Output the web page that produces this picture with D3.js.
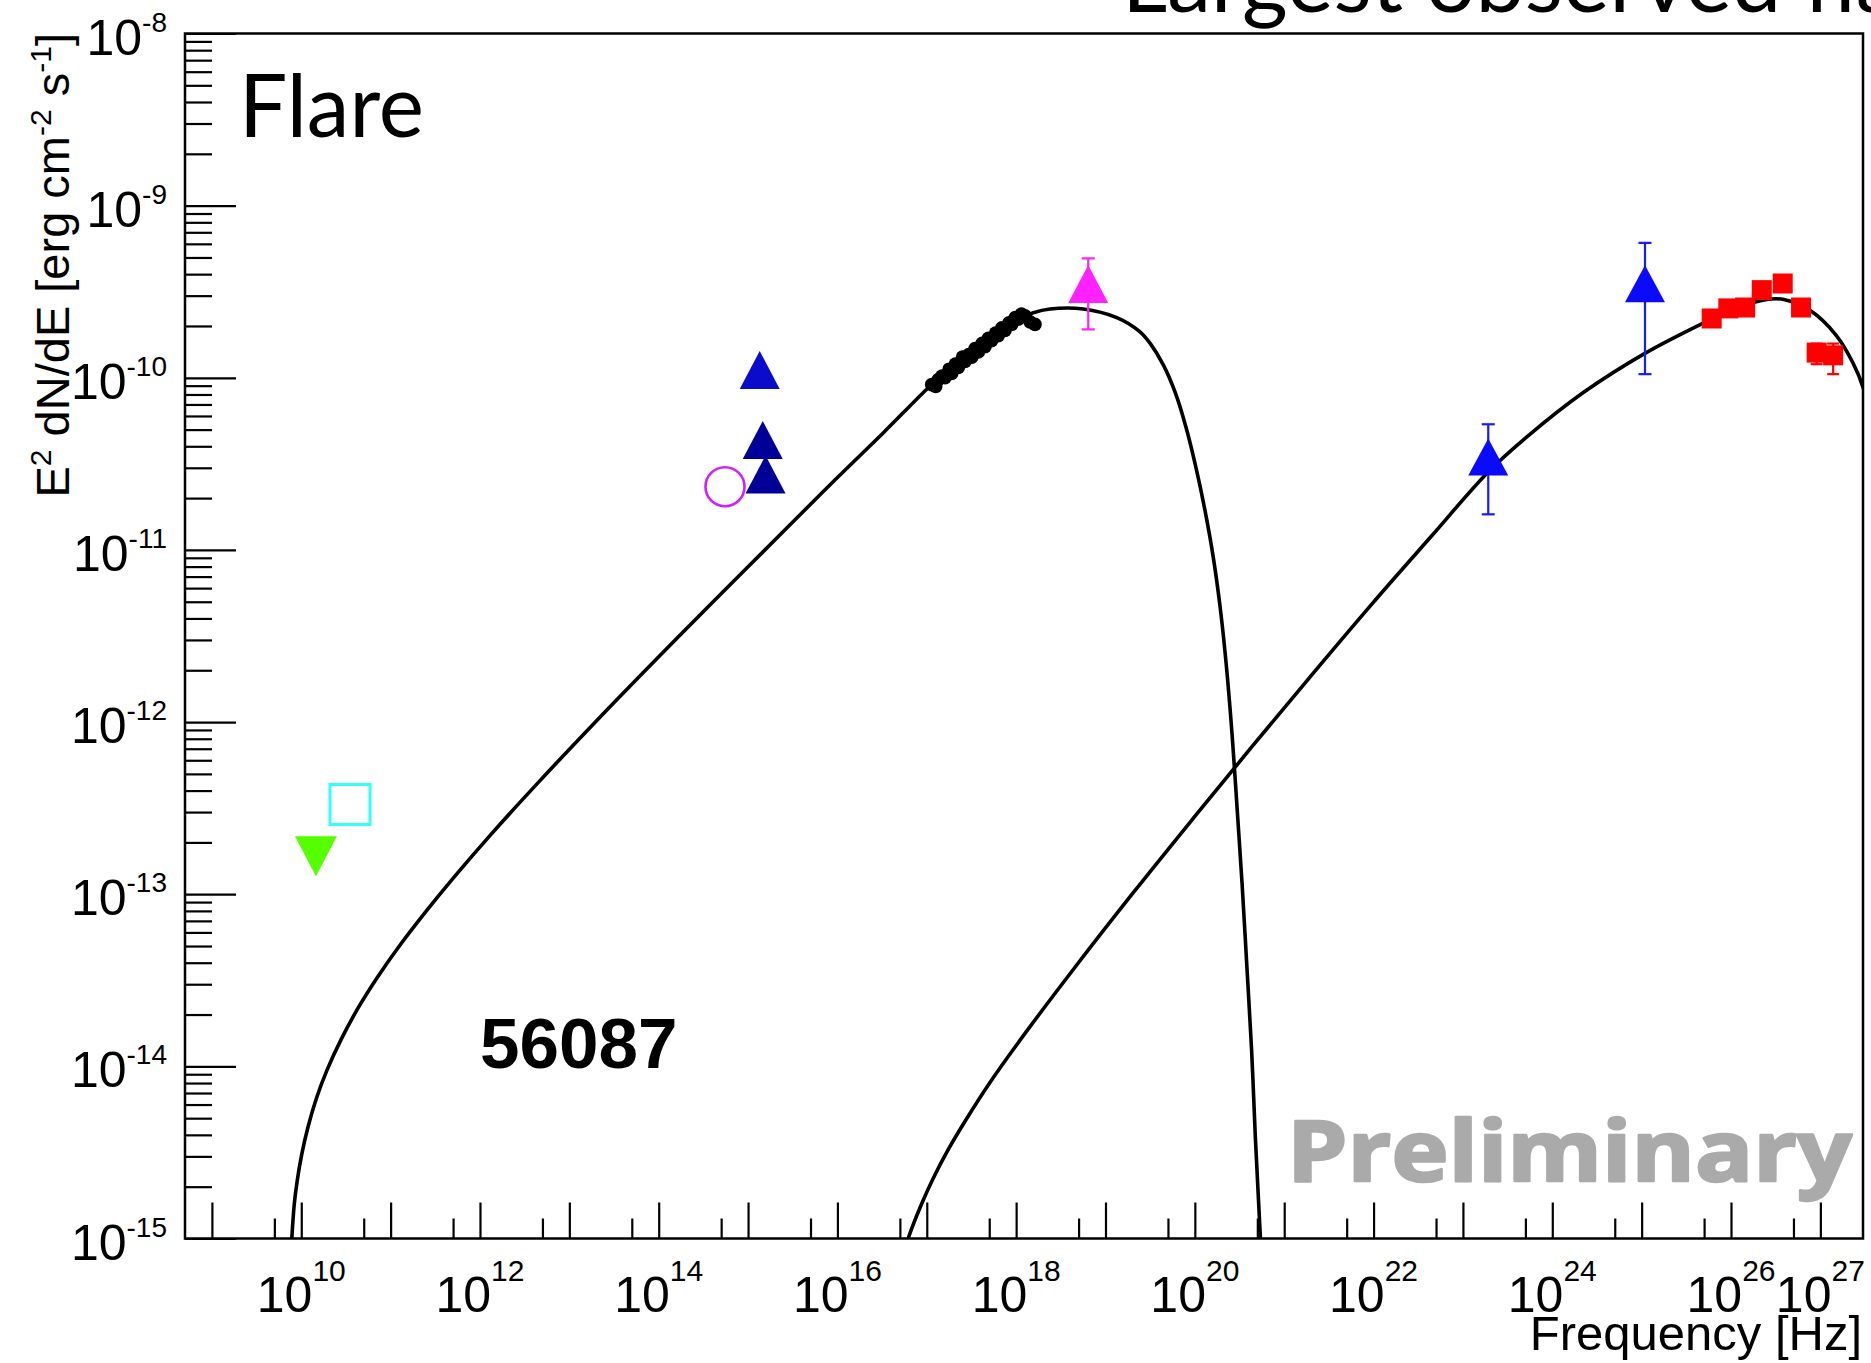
<!DOCTYPE html>
<html><head><meta charset="utf-8">
<script src="https://cdn.jsdelivr.net/npm/d3@7"></script>
<style>html,body{margin:0;padding:0;background:#fff;} svg{display:block}</style>
</head><body>
<svg id="c" width="1871" height="1363"></svg>
<script>
// ---------------- data ----------------
const xTickExp = [10, 12, 14, 16, 18, 20, 22, 24, 26, 27];
const yTickExp = [-8, -9, -10, -11, -12, -13, -14, -15];

// synchrotron model curve (log10 nu, log10 nuFnu)
const synchLogNu = [9.881, 9.921, 9.954, 10.007, 10.074, 10.168, 10.288, 10.448, 10.635, 10.849, 11.102, 11.396, 11.703, 12.104, 12.638, 13.305, 13.973, 14.640, 15.428, 15.975, 16.509, 17.003, 17.257, 17.631, 18.005, 18.192, 18.379, 18.752, 19.126, 19.380, 19.500, 19.647, 19.780, 19.901, 20.007, 20.114, 20.208, 20.288, 20.355, 20.421, 20.475, 20.528, 20.582, 20.635, 20.675, 20.715, 20.742];
const synchLogF  = [-15.117, -14.805, -14.667, -14.507, -14.355, -14.188, -14.022, -13.842, -13.662, -13.485, -13.298, -13.100, -12.905, -12.664, -12.359, -11.992, -11.635, -11.285, -10.876, -10.592, -10.322, -10.065, -9.945, -9.785, -9.665, -9.622, -9.600, -9.600, -9.650, -9.730, -9.800, -9.925, -10.085, -10.287, -10.509, -10.772, -11.049, -11.354, -11.687, -12.103, -12.518, -12.934, -13.419, -13.904, -14.389, -14.805, -15.082];

// inverse Compton model curve
const sscLogNu = [16.736, 16.776, 16.830, 16.937, 17.070, 17.244, 17.444, 17.711, 18.112, 18.646, 19.313, 19.981, 20.648, 21.316, 21.983, 22.651, 23.278, 23.719, 24.347, 25.041, 25.655, 26.029, 26.403, 26.590, 26.883, 27.177, 27.364, 27.484, 27.618];
const sscLogF  = [-15.117, -15.027, -14.944, -14.805, -14.653, -14.480, -14.306, -14.091, -13.800, -13.433, -12.990, -12.560, -12.137, -11.721, -11.313, -10.918, -10.550, -10.342, -10.086, -9.857, -9.691, -9.601, -9.545, -9.545, -9.608, -9.753, -9.913, -10.065, -10.370];

// X-ray points (black dots)
const xrayLogNu = [17.055, 17.100, 17.129, 17.170, 17.204, 17.250, 17.279, 17.320, 17.353, 17.400, 17.428, 17.470, 17.503, 17.540, 17.577, 17.620, 17.652, 17.690, 17.726, 17.770, 17.800, 17.840, 17.875, 17.920, 17.950, 17.990, 18.024, 18.060, 18.100, 18.155, 18.211];
const xrayLogF  = [-10.040, -10.050, -10.010, -9.990, -10.000, -9.950, -9.975, -9.920, -9.940, -9.880, -9.905, -9.865, -9.880, -9.830, -9.850, -9.800, -9.820, -9.770, -9.785, -9.740, -9.755, -9.710, -9.725, -9.680, -9.690, -9.650, -9.660, -9.630, -9.640, -9.675, -9.690];

const radioNu = [1.46e10], radioF = [1.66e-13];          // green, upper limit
const mmNu = [3.51e10], mmF = [3.32e-13];                // cyan open square
const irNu = [5.52e14], irF = [2.33e-11];                // magenta open circle
const uvNu = [1.35e15], uvF = [1.11e-10];                // blue triangle
const optNu = [1.46e15, 1.57e15], optF = [4.35e-11, 2.74e-11]; // navy triangles
const hxNu = [6.41e18], hxF = [3.51e-10], hxHi = [4.94e-10], hxLo = [1.91e-10]; // magenta triangle
const gamNu = [1.92e23, 1.09e25], gamF = [3.47e-11, 3.52e-10], gamHi = [5.37e-11, 6.08e-10], gamLo = [1.61e-11, 1.05e-10];
const vheNu = [6.08e25, 9.33e25, 1.44e26, 2.21e26, 3.79e26, 6.08e26, 9.10e26, 1.39e27];
const vheF  = [2.21e-10, 2.53e-10, 2.56e-10, 3.23e-10, 3.53e-10, 2.56e-10, 1.40e-10, 1.35e-10];
const vheHi = [2.38e-10, 2.72e-10, 2.75e-10, 3.45e-10, 3.78e-10, 2.76e-10, 1.58e-10, 1.58e-10];
const vheLo = [2.04e-10, 2.34e-10, 2.37e-10, 3.01e-10, 3.28e-10, 2.36e-10, 1.20e-10, 1.05e-10];

// ---------------- drawing ----------------
const svg = d3.select('#c');
const L = 185, R = 1863, T = 33.5, B = 1238.5;
const x = d3.scaleLog().domain([5e8, 3e27]).range([L, R]);
const y = d3.scaleLog().domain([1e-15, 1e-8]).range([B, T]);
const axisFont = "'Liberation Sans', Arial, Helvetica, sans-serif";

svg.append('rect').attr('width', 1871).attr('height', 1363).attr('fill', '#fff');

// title (mostly cut off at top)
svg.append('text').attr('x', 1122).attr('y', 12).attr('font-family', "Lato, 'Open Sans', sans-serif")
  .attr('font-size', 88).attr('fill', '#000').text('Largest observed flare');

svg.append('defs').append('clipPath').attr('id', 'frame')
  .append('rect').attr('x', L).attr('y', T).attr('width', R - L).attr('height', B - T);

// ticks
const xMajor = d3.range(9, 28).map(e => 10 ** e);
const xMinor = d3.range(9, 27).map(e => 5 * 10 ** e);
const yMajor = d3.range(-15, -7).map(e => 10 ** e);
const yMinor = [];
d3.range(-15, -8).forEach(e => { for (let m = 2; m <= 9; m++) yMinor.push(m * 10 ** e); });

function styleAxis(g) {
  g.select('.domain').remove();
  g.selectAll('line').attr('stroke', '#000').attr('stroke-width', 2.2);
}
svg.append('g').attr('transform', `translate(0,${B})`)
  .call(d3.axisBottom(x).tickValues(xMajor).tickSize(-36).tickFormat('')).call(styleAxis);
svg.append('g').attr('transform', `translate(0,${B})`)
  .call(d3.axisBottom(x).tickValues(xMinor).tickSize(-20).tickFormat('')).call(styleAxis);
svg.append('g').attr('transform', `translate(${L},0)`)
  .call(d3.axisLeft(y).tickValues(yMajor).tickSize(-51).tickFormat('')).call(styleAxis);
svg.append('g').attr('transform', `translate(${L},0)`)
  .call(d3.axisLeft(y).tickValues(yMinor).tickSize(-27).tickFormat('')).call(styleAxis);

// tick labels
const xl = svg.append('g').attr('font-family', axisFont).attr('fill', '#000');
xTickExp.forEach(e => {
  const t = xl.append('text').attr('x', x(10 ** e)).attr('y', 1312).attr('text-anchor', 'middle').attr('font-size', 50);
  t.append('tspan').text('10');
  t.append('tspan').attr('dy', -31).attr('font-size', 30).text(e);
});
const yl = svg.append('g').attr('font-family', axisFont).attr('fill', '#000');
yTickExp.forEach(e => {
  const t = yl.append('text').attr('x', 167).attr('y', y(10 ** e) + 21).attr('text-anchor', 'end').attr('font-size', 50);
  t.append('tspan').text('10');
  t.append('tspan').attr('dy', -23).attr('font-size', 28).text('-' + Math.abs(e));
});

// axis titles
svg.append('text').attr('x', 1862).attr('y', 1350).attr('text-anchor', 'end')
  .attr('font-family', axisFont).attr('font-size', 49).text('Frequency [Hz]');
const yt = svg.append('text').attr('transform', 'translate(69,33) rotate(-90)').attr('text-anchor', 'end')
  .attr('font-family', axisFont).attr('font-size', 47);
yt.append('tspan').text('E');
yt.append('tspan').attr('dy', -18).attr('font-size', 30).text('2');
yt.append('tspan').attr('dy', 18).text(' dN/dE [erg cm');
yt.append('tspan').attr('dy', -18).attr('font-size', 30).text('-2');
yt.append('tspan').attr('dy', 18).text(' s');
yt.append('tspan').attr('dy', -18).attr('font-size', 30).text('-1');
yt.append('tspan').attr('dy', 18).text(']');

// model curves
const plot = svg.append('g').attr('clip-path', 'url(#frame)');
const line = d3.line().x(d => x(10 ** d[0])).y(d => y(10 ** d[1])).curve(d3.curveCatmullRom.alpha(0.5));
plot.append('path').attr('d', line(d3.zip(synchLogNu, synchLogF)))
  .attr('fill', 'none').attr('stroke', '#000').attr('stroke-width', 3.6).attr('stroke-linejoin', 'round');
plot.append('path').attr('d', line(d3.zip(sscLogNu, sscLogF)))
  .attr('fill', 'none').attr('stroke', '#000').attr('stroke-width', 3.6).attr('stroke-linejoin', 'round');

// helpers
function tri(cx, cy, w, h, up) {
  const hw = w / 2, hh = h / 2;
  return up ? `M${cx - hw},${cy + hh}L${cx + hw},${cy + hh}L${cx},${cy - hh}Z`
            : `M${cx - hw},${cy - hh}L${cx + hw},${cy - hh}L${cx},${cy + hh}Z`;
}
function errBars(nu, hi, lo, color, cap) {
  nu.forEach((n, i) => {
    const cx = x(n), y1 = y(hi[i]), y2 = y(lo[i]);
    plot.append('line').attr('x1', cx).attr('x2', cx).attr('y1', y1).attr('y2', y2)
      .attr('stroke', color).attr('stroke-width', 2.2);
    [y1, y2].forEach(yy => plot.append('line').attr('x1', cx - cap).attr('x2', cx + cap)
      .attr('y1', yy).attr('y2', yy).attr('stroke', color).attr('stroke-width', 2.2));
  });
}

// X-ray dots
plot.selectAll('circle.xr').data(d3.zip(xrayLogNu, xrayLogF)).join('circle')
  .attr('cx', d => x(10 ** d[0])).attr('cy', d => y(10 ** d[1])).attr('r', 6.8).attr('fill', '#000');

// radio upper limit (green, down triangle)
radioNu.forEach((n, i) => plot.append('path').attr('d', tri(x(n), y(radioF[i]), 42, 40, false)).attr('fill', '#55ff00'));
// mm (cyan open square)
mmNu.forEach((n, i) => plot.append('rect').attr('x', x(n) - 20).attr('y', y(mmF[i]) - 20)
  .attr('width', 40).attr('height', 40).attr('fill', 'none').attr('stroke', '#33ffff').attr('stroke-width', 3));
// IR open circle
irNu.forEach((n, i) => plot.append('circle').attr('cx', x(n)).attr('cy', y(irF[i])).attr('r', 19.5)
  .attr('fill', 'none').attr('stroke', '#cc22ff').attr('stroke-width', 2.6));
// optical / UV
optNu.forEach((n, i) => plot.append('path').attr('d', tri(x(n), y(optF[i]), 40, 38, true)).attr('fill', '#000099'));
uvNu.forEach((n, i) => plot.append('path').attr('d', tri(x(n), y(uvF[i]), 40, 38, true)).attr('fill', '#0b0bcc'));
// hard X-ray magenta
errBars(hxNu, hxHi, hxLo, '#ff22ff', 6.5);
hxNu.forEach((n, i) => plot.append('path').attr('d', tri(x(n), y(hxF[i]), 40, 38, true)).attr('fill', '#ff22ff'));
// gamma-ray blue
errBars(gamNu, gamHi, gamLo, '#1a1aff', 6.5);
gamNu.forEach((n, i) => plot.append('path').attr('d', tri(x(n), y(gamF[i]), 40, 37, true)).attr('fill', '#0a0aff'));
// VHE red squares
errBars(vheNu, vheHi, vheLo, '#ff0000', 6);
vheNu.forEach((n, i) => plot.append('rect').attr('x', x(n) - 10).attr('y', y(vheF[i]) - 10)
  .attr('width', 20).attr('height', 20).attr('fill', '#ff0000'));

// texts
svg.append('text').attr('x', 239).attr('y', 137).attr('font-family', "Lato, 'Open Sans', sans-serif")
  .attr('font-size', 88).attr('textLength', 185).attr('lengthAdjust', 'spacingAndGlyphs').text('Flare');
svg.append('text').attr('x', 480).attr('y', 1068).attr('font-family', axisFont).attr('font-weight', 'bold')
  .attr('font-size', 71).text('56087');
svg.append('text').attr('x', 1287).attr('y', 1181).attr('font-family', "'Open Sans', Lato, sans-serif")
  .attr('font-weight', 700).attr('font-size', 84).attr('fill', '#aaaaaa')
  .attr('stroke', '#aaaaaa').attr('stroke-width', 2.5).attr('stroke-linejoin', 'round')
  .attr('textLength', 565).attr('lengthAdjust', 'spacingAndGlyphs').text('Preliminary');

// frame
svg.append('rect').attr('x', L).attr('y', T).attr('width', R - L).attr('height', B - T)
  .attr('fill', 'none').attr('stroke', '#000').attr('stroke-width', 2.5);
</script>
</body></html>
